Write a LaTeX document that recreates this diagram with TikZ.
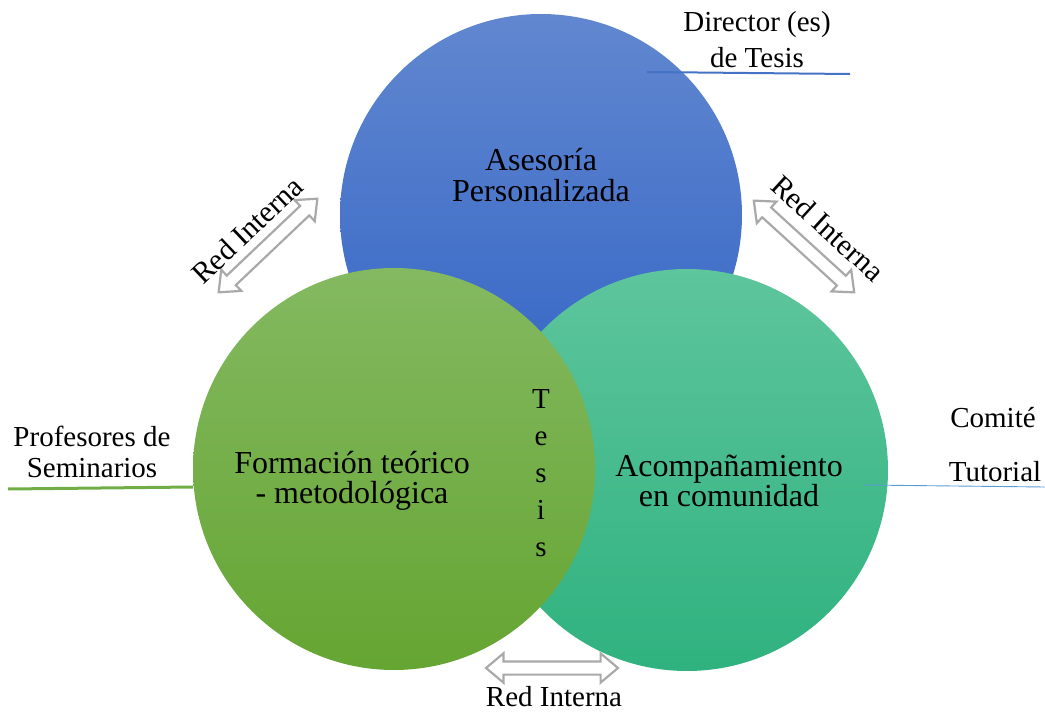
\documentclass[tikz,border=0pt]{standalone}
\usepackage{fontspec}
\setmainfont{Liberation Serif}
\usetikzlibrary{shapes.arrows}

\definecolor{azularriba}{HTML}{6187CF}
\definecolor{azulabajo}{HTML}{3365C6}
\definecolor{verdearriba}{HTML}{84B961}
\definecolor{verdeabajo}{HTML}{65A532}
\definecolor{tealarriba}{HTML}{5EC59C}
\definecolor{tealabajo}{HTML}{2FB27F}
\definecolor{gris}{HTML}{A9A9A9}
\definecolor{lineaazul}{HTML}{4472C4}
\definecolor{lineaverde}{HTML}{70AD47}
\definecolor{lineaceleste}{HTML}{5B9BD5}

\tikzset{
  circulo/.style={circle, minimum size=402pt, inner sep=0pt},
  flecha/.style={double arrow, draw=gris, fill=white, line width=2.2pt,
    inner xsep=0pt, inner ysep=5.5pt, double arrow head extend=8pt,
    double arrow tip angle=80, minimum height=#1},
  texto/.style={font=\fontsize{29}{31}\selectfont, align=center, inner sep=0pt},
  textocirculo/.style={texto, font=\fontsize{32}{30.5}\selectfont},
}

\begin{document}
\begin{tikzpicture}[x=1pt,y=-1pt]

        % Define parameters
        \def\r{201}  % radius of circles
        \useasboundingbox (0,0) rectangle (1045,712);

        % Circles (blue first, then teal, then green on top)
        \node[circulo, top color=azularriba, bottom color=azulabajo] (asesoria) at (541,215) {};
        \node[circulo, top color=tealarriba, bottom color=tealabajo] (acomp) at (687,470) {};
        \node[circulo, top color=verdearriba, bottom color=verdeabajo] (formacion) at (394,469) {};

        % Texts inside the circles
        \node[textocirculo] (tasesoria) at (541,175) {Asesoría\\Personalizada};
        \node[textocirculo] (tformacion) at (352,481) {Formación teórico\\- metodológica};
        \node[textocirculo] (tacomp) at (729,481) {Acompañamiento\\en comunidad};
        \node[texto, font=\fontsize{29}{37}\selectfont] (tesis) at (541,473) {T\\e\\s\\i\\s};

        % Outer labels
        \node[texto, font=\fontsize{29}{36}\selectfont] (director) at (757,40) {Director (es)\\de Tesis};
        \node[texto] (profesores) at (92,452) {Profesores de\\Seminarios};
        \node[texto] (comite) at (993,418) {Comité};
        \node[texto] (tutorial) at (995,472) {Tutorial};

        % Lines under the labels
        \coordinate (d1) at (647,72);
        \coordinate (d2) at (850,74);
        \coordinate (p1) at (8,489);
        \coordinate (p2) at (193,487);
        \coordinate (c1) at (864,485);
        \coordinate (c2) at (1045,487);
        \draw[lineaazul, line width=2pt] (d1) -- (d2);
        \draw[lineaverde, line width=3pt] (p1) -- (p2);
        \draw[lineaceleste, line width=0.9pt] (c1) -- (c2);

        % Double arrows
        \node[flecha=136pt, rotate=43.5] (redizq) at (268,245.5) {};
        \node[flecha=136pt, rotate=-42.4] (redder) at (804,246.5) {};
        \node[flecha=132pt] (redabajo) at (552,668) {};

        % Arrow labels
        \node[texto, font=\fontsize{30}{31}\selectfont, rotate=43.5] (tredizq) at (247,230) {Red Interna};
        \node[texto, font=\fontsize{30}{31}\selectfont, rotate=-42.4] (tredder) at (828,228) {Red Interna};
        \node[texto] (tredabajo) at (554,697) {Red Interna};

    \end{tikzpicture}
\end{document}
